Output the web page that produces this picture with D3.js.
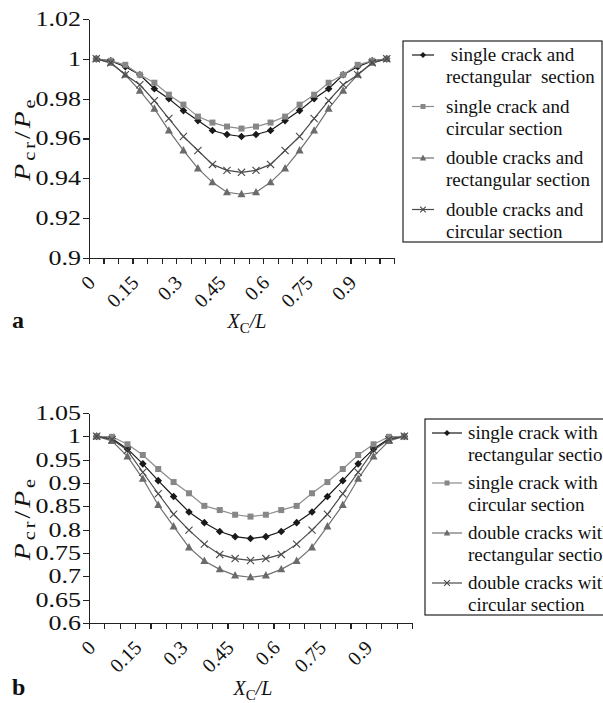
<!DOCTYPE html>
<meta charset="utf-8">
<head>
  <title>Pcr/Pe vs crack position</title>
</head>

<style>
body {
  margin: 0;
  background: #fff;
}
text {
  font-family: "Liberation Serif", "Times New Roman", serif;
  fill: #111;
  white-space: pre;
}
.axis path, .axis line {
  stroke: #222;
  stroke-width: 1.2;
  shape-rendering: crispEdges;
}
</style>

<body>
  <svg id="chart" width="603" height="703"></svg>

  <script src="https://cdnjs.cloudflare.com/ajax/libs/d3/7.8.5/d3.min.js"></script>

  <script>
  // crack position X_c/L (category axis)
  var xCats = [0, 0.05, 0.1, 0.15, 0.2, 0.25, 0.3, 0.35, 0.4, 0.45, 0.5,
               0.55, 0.6, 0.65, 0.7, 0.75, 0.8, 0.85, 0.9, 0.95, 1];
  var xLabels = ['0', '0.15', '0.3', '0.45', '0.6', '0.75', '0.9'];

  var yTicksA = [0.9, 0.92, 0.94, 0.96, 0.98, 1, 1.02];
  var yTicksB = [0.6, 0.65, 0.7, 0.75, 0.8, 0.85, 0.9, 0.95, 1, 1.05];

  // panel a
  var singleRectA = [1, 0.999, 0.996, 0.992, 0.985, 0.980, 0.974, 0.969, 0.964, 0.962, 0.961,
                     0.962, 0.964, 0.969, 0.974, 0.980, 0.985, 0.992, 0.996, 0.999, 1];
  var singleCircA = [1, 0.999, 0.997, 0.992, 0.988, 0.982, 0.977, 0.971, 0.968, 0.966, 0.965,
                     0.966, 0.968, 0.971, 0.977, 0.982, 0.988, 0.992, 0.997, 0.999, 1];
  var doubleRectA = [1, 0.998, 0.992, 0.984, 0.975, 0.964, 0.954, 0.945, 0.938, 0.933, 0.932,
                     0.933, 0.938, 0.945, 0.954, 0.964, 0.975, 0.984, 0.992, 0.998, 1];
  var doubleCircA = [1, 0.998, 0.992, 0.987, 0.979, 0.970, 0.961, 0.954, 0.947, 0.944, 0.943,
                     0.944, 0.947, 0.954, 0.961, 0.970, 0.979, 0.987, 0.992, 0.998, 1];

  // panel b
  var singleRectB = [1, 0.995, 0.973, 0.941, 0.905, 0.871, 0.838, 0.815, 0.796, 0.785, 0.781,
                     0.785, 0.796, 0.815, 0.838, 0.871, 0.905, 0.941, 0.973, 0.995, 1];
  var singleCircB = [1, 0.999, 0.983, 0.960, 0.930, 0.902, 0.878, 0.851, 0.842, 0.832, 0.828,
                     0.832, 0.842, 0.851, 0.878, 0.902, 0.930, 0.960, 0.983, 0.999, 1];
  var doubleRectB = [1, 0.990, 0.957, 0.909, 0.853, 0.807, 0.762, 0.733, 0.715, 0.702, 0.698,
                     0.702, 0.715, 0.733, 0.762, 0.807, 0.853, 0.909, 0.957, 0.990, 1];
  var doubleCircB = [1, 0.993, 0.970, 0.923, 0.877, 0.833, 0.799, 0.769, 0.747, 0.738, 0.734,
                     0.738, 0.747, 0.769, 0.799, 0.833, 0.877, 0.923, 0.970, 0.993, 1];

  var legendA = [
    [' single crack and', 'rectangular  section'],
    ['single crack and', 'circular section'],
    ['double cracks and', 'rectangular section'],
    ['double cracks and', 'circular section']
  ];
  var legendB = [
    ['single crack with', 'rectangular section'],
    ['single crack with', 'circular section'],
    ['double cracks with', 'rectangular section'],
    ['double cracks with', 'circular section']
  ];

  // marker look per series: diamond, square, triangle, cross
  var styles = [
    {shape: 'diamond', fill: '#1a1a1a', line: '#1a1a1a'},
    {shape: 'square', fill: '#878787', line: '#8c8c8c'},
    {shape: 'triangle', fill: '#6b6b6b', line: '#707070'},
    {shape: 'cross', fill: 'none', line: '#4a4a4a'}
  ];

  function markerPath(shape, r) {
    if (shape === 'diamond') return 'M0,' + (-r) + 'L' + r + ',0L0,' + r + 'L' + (-r) + ',0Z';
    if (shape === 'square') return 'M' + (-r) + ',' + (-r) + 'h' + (2 * r) + 'v' + (2 * r) + 'h' + (-2 * r) + 'Z';
    if (shape === 'triangle') return 'M0,' + (-r * 1.1) + 'L' + r + ',' + (r * 0.75) + 'L' + (-r) + ',' + (r * 0.75) + 'Z';
    return 'M' + (-r) + ',' + (-r) + 'L' + r + ',' + r + 'M' + (-r) + ',' + r + 'L' + r + ',' + (-r);
  }

  function drawMarker(g, st, r, x, y) {
    g.append('path')
      .attr('transform', 'translate(' + x + ',' + y + ')')
      .attr('d', markerPath(st.shape, r))
      .attr('fill', st.fill)
      .attr('stroke', st.shape === 'cross' ? st.line : 'none')
      .attr('stroke-width', 1.1);
  }

  var svg = d3.select('#chart');

  function panel(cfg) {
    var g = svg.append('g');
    var n = xCats.length;

    var x = d3.scaleBand().domain(xCats).range([cfg.left, cfg.right]);
    var xEdge = d3.scaleLinear().domain([0, n]).range([cfg.left, cfg.right]);
    var y = d3.scaleLinear().domain(cfg.yDomain).range([cfg.bottom, cfg.top]);

    // y axis (labels drawn a bit wide, like the scanned figure)
    var ya = g.append('g')
      .attr('class', 'axis')
      .attr('transform', 'translate(' + cfg.left + ',0)')
      .call(d3.axisLeft(y).tickValues(cfg.yTicks).tickSize(6).tickSizeOuter(0)
        .tickFormat(function(d) { return String(+d.toFixed(2)); }));
    ya.selectAll('text')
      .attr('x', -8 / 1.3)
      .attr('transform', 'scale(1.3,1)')
      .style('font-size', '20px')
      .style('font-family', '"Liberation Serif", serif')
      .attr('fill', '#111');

    // x axis: ticks between categories
    g.append('g')
      .attr('class', 'axis')
      .attr('transform', 'translate(0,' + cfg.bottom + ')')
      .call(d3.axisBottom(xEdge).tickValues(d3.range(n + 1)).tickSize(6).tickSizeOuter(0)
        .tickFormat(''));

    g.selectAll('text.xl')
      .data(xLabels)
      .enter()
      .append('text')
      .attr('class', 'xl')
      .attr('text-anchor', 'end')
      .attr('dy', '0.35em')
      .attr('transform', function(d, i) {
        return 'translate(' + (x(xCats[i * 3]) + x.bandwidth() / 2 - 5) + ',' + (cfg.bottom + 21) + ') rotate(-45)';
      })
      .style('font-size', '20px')
      .text(function(d) { return d; });

    // lines and markers
    var line = d3.line()
      .x(function(d, i) { return x(xCats[i]) + x.bandwidth() / 2; })
      .y(function(d) { return y(d); });

    cfg.series.forEach(function(s, k) {
      var st = styles[k];
      g.append('path')
        .datum(s)
        .attr('d', line)
        .attr('fill', 'none')
        .attr('stroke', st.line)
        .attr('stroke-width', 1.2);
    });
    cfg.series.forEach(function(s, k) {
      var st = styles[k];
      var rr = {diamond: 3.8, square: 3, triangle: 4, cross: 3.6}[st.shape];
      s.forEach(function(v, i) {
        drawMarker(g, st, rr, x(xCats[i]) + x.bandwidth() / 2, y(v));
      });
    });

    // y title P_cr/P_e
    var yt = g.append('text')
      .attr('transform', 'translate(' + cfg.yTitleX + ',' + ((cfg.top + cfg.bottom) / 2) + ') rotate(-90) scale(1.2,1)')
      .attr('text-anchor', 'middle')
      .style('letter-spacing', '2.5px')
      .style('font-size', '23px');
    yt.append('tspan').style('font-style', 'italic').text('P');
    yt.append('tspan').attr('dy', 5).style('font-size', '17px').text('cr');
    yt.append('tspan').attr('dy', -5).text('/');
    yt.append('tspan').style('font-style', 'italic').text('P');
    yt.append('tspan').attr('dy', 5).style('font-size', '17px').text('e');

    // x title X_c/L
    var xt = g.append('text')
      .attr('x', cfg.xTitleX)
      .attr('y', cfg.xTitleY)
      .attr('text-anchor', 'middle')
      .style('font-size', '20px');
    xt.append('tspan').style('font-style', 'italic').text('X');
    xt.append('tspan').attr('dy', 5).style('font-size', '15px').text('C');
    xt.append('tspan').attr('dy', -5).style('font-style', 'italic').text('/L');

    // panel letter
    g.append('text')
      .attr('x', 12)
      .attr('y', cfg.xTitleY)
      .style('font-size', '24px')
      .style('font-weight', 'bold')
      .text(cfg.letter);

    // legend
    var lg = g.append('g');
    lg.append('rect')
      .attr('x', cfg.legend.x)
      .attr('y', cfg.legend.y)
      .attr('width', cfg.legend.w)
      .attr('height', cfg.legend.h)
      .attr('fill', '#fff')
      .attr('stroke', '#222')
      .attr('stroke-width', 1.2);
    cfg.legend.items.forEach(function(lines, k) {
      var st = styles[k];
      var cy = cfg.legend.y + cfg.legend.first + k * cfg.legend.step;
      lg.append('line')
        .attr('x1', cfg.legend.x1).attr('x2', cfg.legend.x2)
        .attr('y1', cy).attr('y2', cy)
        .attr('stroke', st.line)
        .attr('stroke-width', 1.2);
      var lr = {diamond: 3, square: 2.5, triangle: 3.2, cross: 2.8}[st.shape];
      drawMarker(lg, st, lr, (cfg.legend.x1 + cfg.legend.x2) / 2, cy);
      lines.forEach(function(t, j) {
        lg.append('text')
          .attr('x', cfg.legend.tx)
          .attr('y', cy + j * 22)
          .attr('dy', '0.33em')
          .style('font-size', '19px')
          .text(t);
      });
    });
  }

  panel({
    letter: 'a',
    left: 89, right: 394, top: 19, bottom: 258,
    yDomain: [0.9, 1.02], yTicks: yTicksA,
    series: [singleRectA, singleCircA, doubleRectA, doubleCircA],
    yTitleX: 30, xTitleX: 247, xTitleY: 328,
    legend: {x: 403, y: 41, w: 199, h: 201, first: 14, step: 51.5,
             x1: 412, x2: 434, tx: 446, items: legendA}
  });

  panel({
    letter: 'b',
    left: 89, right: 412, top: 413, bottom: 623,
    yDomain: [0.6, 1.05], yTicks: yTicksB,
    series: [singleRectB, singleCircB, doubleRectB, doubleCircB],
    yTitleX: 30, xTitleX: 253, xTitleY: 695,
    legend: {x: 425, y: 419, w: 200, h: 196, first: 14, step: 50,
             x1: 432, x2: 462, tx: 468, items: legendB}
  });
  </script>
</body>
</html>
